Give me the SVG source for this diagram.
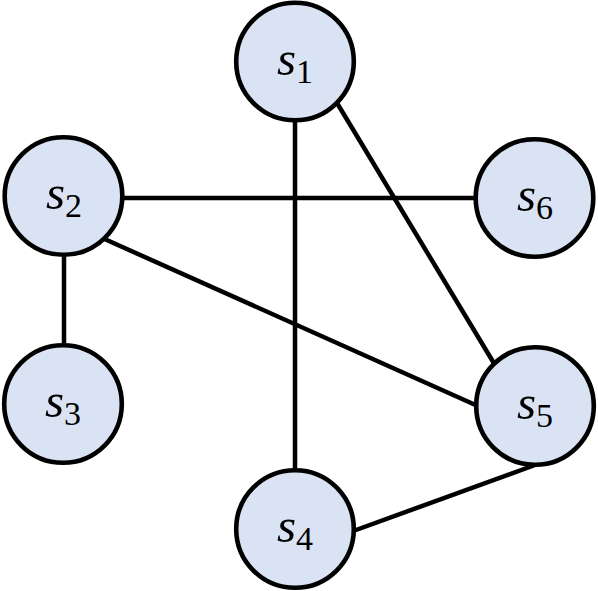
<svg xmlns="http://www.w3.org/2000/svg" width="598" height="591" viewBox="0 0 598 591">
<style>
.edge{stroke:#000;stroke-width:4.5;fill:none}
.node circle{fill:#DAE3F3;stroke:#000;stroke-width:4.6}
.node text{font-family:"Liberation Serif",serif;font-size:49px;fill:#000;text-anchor:middle}
.v{font-style:italic}
.sub{font-size:34px;font-style:normal}
</style>
<rect width="598" height="591" fill="#fff"/>
<g id="edges">
<line class="edge" x1="295" y1="100" x2="295" y2="490"/>
<line class="edge" x1="331" y1="93" x2="495" y2="365"/>
<line class="edge" x1="100" y1="198" x2="500" y2="198"/>
<line class="edge" x1="100" y1="237" x2="480" y2="407"/>
<line class="edge" x1="64" y1="240" x2="64" y2="360"/>
<line class="edge" x1="345" y1="534" x2="535" y2="465"/>
</g>
<g id="s1" class="node"><circle cx="295" cy="61.5" r="58.8"/><text x="295" y="75"><tspan class="v">s</tspan><tspan class="sub" dy="8">1</tspan></text></g>
<g id="s2" class="node"><circle cx="63.5" cy="196" r="58.8"/><text x="64" y="209"><tspan class="v">s</tspan><tspan class="sub" dy="8">2</tspan></text></g>
<g id="s6" class="node"><circle cx="534.5" cy="198" r="58.8"/><text x="535" y="211"><tspan class="v">s</tspan><tspan class="sub" dy="8">6</tspan></text></g>
<g id="s3" class="node"><circle cx="63" cy="404" r="58.8"/><text x="63" y="417"><tspan class="v">s</tspan><tspan class="sub" dy="8">3</tspan></text></g>
<g id="s5" class="node"><circle cx="535" cy="406" r="58.8"/><text x="535" y="419"><tspan class="v">s</tspan><tspan class="sub" dy="8">5</tspan></text></g>
<g id="s4" class="node"><circle cx="295" cy="529" r="58.8"/><text x="295" y="542"><tspan class="v">s</tspan><tspan class="sub" dy="8">4</tspan></text></g>
</svg>
